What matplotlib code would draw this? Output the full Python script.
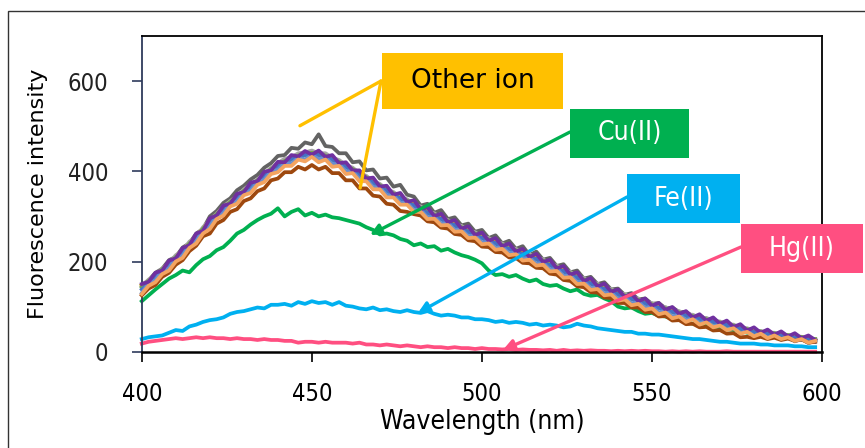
import numpy as np
import matplotlib
matplotlib.use("Agg")
import matplotlib.pyplot as plt
from matplotlib.patches import Rectangle

plt.rcParams['font.family'] = ['DejaVu Sans']
plt.rcParams['font.stretch'] = 'condensed'

# Emission wavelengths (nm), 2 nm step
wavelength = np.arange(400, 600, 2)

# Fluorescence spectra of the probe with the non-quenching ions
other_ion_series = {
    "#636363": [148,158,175,184,203,210,231,240,262,272,
                300,312,330,340,358,368,382,392,408,418,
                434,436,452,450,464,460,482,456,454,440,
                440,420,422,402,404,384,386,366,370,348,
                344,324,328,308,314,294,298,280,284,266,
                270,252,258,240,246,228,234,214,222,204,
                208,190,194,176,180,162,166,150,154,138,
                140,126,130,116,118,106,108,96,98,88,
                88,79,80,72,72,64,64,57,56,49,
                48,43,43,39,39,35,34,31,30,26],
    "#A5A5A5": [145,160,168,185,196,214,224,244,255,276,
                292,306,322,334,345,360,371,382,394,408,
                418,428,431,440,442,446,440,440,430,425,
                414,408,396,390,378,372,360,354,343,338,
                326,322,310,307,296,292,282,279,268,265,
                254,252,242,240,230,228,218,216,207,205,
                194,191,180,177,166,163,153,151,141,139,
                129,128,119,118,109,108,99,99,90,90,
                82,82,75,75,68,67,61,60,53,52,
                46,46,42,42,38,37,34,33,30,28],
    "#FFC000": [147,155,172,181,199,208,227,238,259,271,
                292,303,321,330,347,355,371,378,395,403,
                417,421,432,433,441,439,441,433,431,419,
                415,403,398,385,380,367,362,349,345,333,
                329,317,313,302,299,288,285,274,271,260,
                257,247,245,235,233,223,221,211,210,200,
                197,186,183,172,169,158,156,146,144,134,
                132,123,122,113,112,103,102,94,93,85,
                85,77,78,70,71,63,64,56,56,48,
                48,42,44,38,40,34,36,30,31,25],
    "#70AD47": [143,157,166,183,193,210,221,240,253,273,
                286,305,315,332,341,357,365,380,389,405,
                411,423,426,435,435,441,435,435,425,421,
                409,405,392,387,374,369,356,351,339,335,
                323,319,307,304,293,290,279,276,265,262,
                251,249,239,237,227,225,215,213,204,202,
                191,188,177,174,163,160,150,148,138,136,
                126,125,116,115,106,105,96,96,87,87,
                79,79,72,72,65,65,58,58,50,50,
                43,45,39,41,35,37,31,33,27,28],
    "#4472C4": [138,150,168,176,195,203,223,233,255,266,
                288,298,317,325,343,350,367,373,391,398,
                413,416,428,428,437,434,437,428,427,414,
                411,398,394,380,376,362,358,344,341,328,
                325,312,309,297,295,283,281,269,267,255,
                253,242,241,230,229,218,217,206,206,195,
                193,181,179,167,165,153,152,141,140,129,
                128,118,118,108,108,98,98,89,89,80,
                81,72,74,65,67,58,60,51,52,43,
                44,38,40,34,36,30,32,26,28,22],
    "#698ED0": [130,152,158,180,185,208,213,236,245,268,
                278,300,307,328,333,352,357,376,381,400,
                403,418,417,430,426,436,427,430,416,416,
                400,400,383,382,365,364,347,346,330,330,
                314,314,298,299,284,285,270,271,256,257,
                242,244,230,232,218,220,206,208,195,197,
                182,183,168,169,154,155,141,143,129,131,
                117,120,107,110,97,100,87,91,78,82,
                70,74,63,67,56,60,49,53,41,45,
                35,40,31,36,27,32,23,28,19,24],
    "#9E480E": [125,140,148,166,175,193,203,223,235,256,
                262,284,292,310,316,334,340,356,362,380,
                384,398,398,410,404,414,404,410,396,396,
                380,380,362,362,346,344,328,326,312,310,
                305,302,289,287,275,273,261,259,247,245,
                233,232,221,220,209,208,197,196,186,185,
                173,171,159,157,145,143,132,131,120,119,
                108,108,98,98,88,88,78,79,69,70,
                61,62,54,55,47,48,40,41,32,33,
                30,33,28,31,26,29,24,27,20,22],
    "#7030A0": [150,155,175,180,202,207,230,236,262,268,
                296,302,324,328,350,354,375,378,399,402,
                421,420,436,433,445,437,446,432,436,418,
                420,402,402,384,386,366,368,348,352,332,
                336,316,320,301,306,287,292,273,278,259,
                264,246,252,234,240,222,228,210,217,199,
                204,185,190,171,176,157,163,145,151,133,
                138,122,128,112,118,102,108,93,99,84,
                90,76,83,69,76,62,69,55,61,47,
                54,42,49,38,45,34,41,30,36,26],
    "#F4A460": [128,146,154,172,180,200,208,230,240,262,
                272,294,302,322,328,347,352,370,376,394,
                398,412,412,426,422,432,420,426,410,412,
                394,396,378,378,360,360,342,342,326,326,
                310,310,294,295,280,281,266,267,252,253,
                238,240,226,228,214,216,202,204,191,193,
                178,179,164,165,150,151,137,139,125,127,
                113,116,103,106,93,96,83,87,74,78,
                66,72,60,65,54,58,48,52,40,44,
                34,40,30,36,28,32,24,28,20,24],
}

cu_ii = [112,125,138,150,162,170,180,176,192,205,
         212,225,232,246,262,270,282,292,300,306,
         318,300,310,316,302,308,300,304,298,296,
         292,288,284,276,270,260,262,258,250,246,
         236,240,232,234,224,228,220,214,210,204,
         196,180,170,172,166,170,162,156,160,150,
         146,148,140,134,138,128,124,126,118,112,
         100,96,98,90,84,86,80,78,74,72,
         66,62,64,60,56,54,50,48,46,42,
         42,40,38,36,34,33,30,28,27,25]

fe_ii = [28,32,34,36,42,48,46,56,60,66,
         70,72,76,84,88,90,94,98,96,104,
         104,106,102,110,106,112,108,110,104,110,
         102,100,96,94,98,92,94,90,88,92,
         88,86,90,84,80,82,80,76,76,72,
         72,70,66,68,64,66,64,60,62,58,
         60,58,54,56,62,58,56,52,50,48,
         46,44,44,40,40,38,38,36,34,32,
         30,28,28,26,24,22,22,20,18,18,
         18,16,16,14,14,14,12,12,10,10]

hg_ii = [18,22,24,26,28,30,28,30,32,30,
         32,30,30,28,30,28,28,26,28,26,
         26,24,24,20,22,22,20,22,20,20,
         20,18,20,16,16,14,16,14,12,14,
         12,10,12,10,10,8,10,8,8,6,
         8,6,6,5,6,4,5,4,4,3,
         4,2,4,2,3,2,3,2,2,1,
         2,1,2,1,2,1,1,0,1,0,
         1,0,1,0,0,0,1,0,0,0,
         0,0,0,0,0,0,0,0,0,0]

x_ticks = [400, 450, 500, 550, 600]
y_ticks = [0, 200, 400, 600]

W, H = 865, 448
fig = plt.figure(figsize=(W / 100, H / 100), dpi=100)
ax = fig.add_axes([141.8 / W, 1 - 351.7 / H, (822 - 141.8) / W, (351.7 - 36) / H])

LW = 2.7
ax.plot(wavelength, hg_ii, color="#FF4F81", lw=LW, clip_on=False, zorder=2)
ax.plot(wavelength, fe_ii, color="#00B0F0", lw=LW, clip_on=False, zorder=2)
ax.plot(wavelength, cu_ii, color="#00B050", lw=LW, clip_on=False, zorder=2)
for col, vals in other_ion_series.items():
    ax.plot(wavelength, vals, color=col, lw=LW, clip_on=False, zorder=3)

ax.set_xlim(400, 600)
ax.set_ylim(0, 700)
ax.set_xticks(x_ticks)
ax.set_yticks(y_ticks)
ax.tick_params(axis="x", direction="out", length=7, width=1.2, pad=15,
               labelsize=17, colors="black")
ax.tick_params(axis="y", direction="out", length=7, width=1.2, pad=17,
               labelsize=17, color="#2F3B5C", labelcolor="#222222")
for side in ("top", "right"):
    ax.spines[side].set_color("black")
    ax.spines[side].set_linewidth(1.3)
ax.spines["left"].set_color("#2F3B5C")
ax.spines["left"].set_linewidth(1.3)
ax.spines["bottom"].set_color("black")
ax.spines["bottom"].set_linewidth(1.8)

ax.set_xlabel("Wavelength (nm)", fontsize=19, labelpad=2)
fig.text(38 / W, 1 - 194 / H, "Fluorescence intensity", rotation=90,
         ha="center", va="center", fontsize=16, fontstretch="normal")


def fig_xy(px, py):
    return px / W, 1 - py / H


def label_box(x0, y0, x1, y1, face, text, tcolor, size, stretch):
    fx0, fy1 = fig_xy(x0, y1)
    rect = Rectangle((fx0, fy1), (x1 - x0) / W, (y1 - y0) / H,
                     transform=fig.transFigure, facecolor=face,
                     edgecolor="none", zorder=5)
    fig.add_artist(rect)
    cx, cy = fig_xy((x0 + x1) / 2, (y0 + y1) / 2)
    fig.text(cx, cy, text, ha="center", va="center", color=tcolor,
             fontsize=size, fontstretch=stretch, zorder=6)


def pointer(tip, start, color, head=True):
    sx, sy = start
    ax.annotate("", xy=tip, xycoords="data",
                xytext=(sx, H - sy), textcoords="figure pixels",
                arrowprops=dict(arrowstyle="-|>" if head else "-",
                                color=color, lw=2.4, mutation_scale=16,
                                shrinkA=0, shrinkB=0),
                annotation_clip=False, zorder=4)


# Pointers from each label to its spectrum
pointer((446.5, 501), (381, 81), "#FFC000", head=False)
pointer((464.2, 363), (381, 81), "#FFC000", head=False)
pointer((467.1, 259), (570, 132), "#00B050")
pointer((481.2, 86), (627, 197), "#00B0F0")
pointer((506.2, 4), (741, 247), "#FF4F81")

label_box(382, 53, 563, 109, "#FFC000", "Other ion", "black", 19, "normal")
label_box(570, 109, 689, 158, "#00B050", "Cu(II)", "white", 19, "condensed")
label_box(627, 174, 740, 223, "#00B0F0", "Fe(II)", "white", 19, "condensed")
label_box(741, 224, 863, 273, "#FF4F81", "Hg(II)", "white", 19, "condensed")

# Outer chart frame
fx, fy = fig_xy(8, 11)
fig.add_artist(Rectangle((fx, -0.1), 1.2, fy + 0.1, transform=fig.transFigure,
                         facecolor="none", edgecolor="#333333", lw=1.0))

fig.savefig("out.png", dpi=100)
